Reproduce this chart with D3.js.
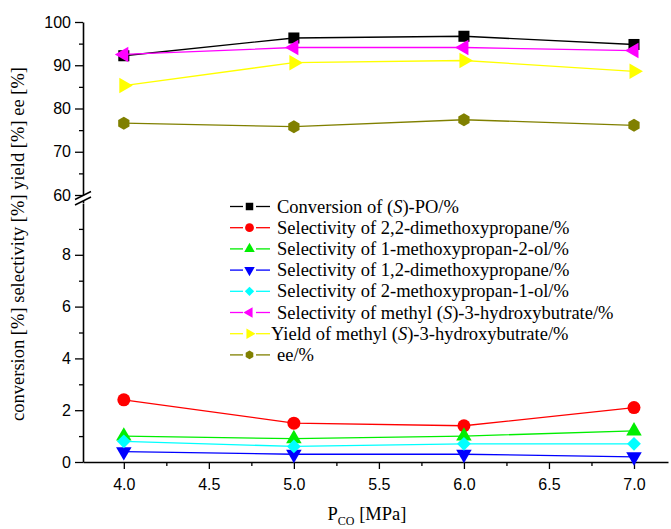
<!DOCTYPE html>
<html><head><meta charset="utf-8">
<script src="https://cdn.jsdelivr.net/npm/d3@7"></script>
<style>body{margin:0;background:#fff}svg{display:block}</style>
</head><body>
<svg id="c" width="671" height="529"></svg>
<script>
const pressures = [4.0, 5.0, 6.0, 7.0];
const xTicks = [4.0, 4.5, 5.0, 5.5, 6.0, 6.5, 7.0];
const yUpTicks = [60, 70, 80, 90, 100];
const yLowTicks = [0, 2, 4, 6, 8];
const conversion = [92.2, 96.3, 96.7, 94.8];
const sel22dmp = [2.4, 1.5, 1.4, 2.1];
const sel1mp2ol = [1.0, 0.9, 1.0, 1.2];
const sel12dmp = [0.4, 0.3, 0.3, 0.2];
const sel2mp1ol = [0.8, 0.6, 0.7, 0.7];
const selMHB = [92.5, 94.1, 94.1, 93.4];
const yieldMHB = [85.3, 90.6, 91.1, 88.6];
const ee = [76.6, 75.8, 77.4, 76.1];

const series = [
  {name: "Conversion of (S)-PO/%", parts: ["Conversion of (", "S", ")-PO/%"], values: conversion, color: "#000000", marker: "square"},
  {name: "Selectivity of 2,2-dimethoxypropane/%", parts: ["Selectivity of 2,2-dimethoxypropane/%"], values: sel22dmp, color: "#ff0000", marker: "circle"},
  {name: "Selectivity of 1-methoxypropan-2-ol/%", parts: ["Selectivity of 1-methoxypropan-2-ol/%"], values: sel1mp2ol, color: "#00ee00", marker: "up"},
  {name: "Selectivity of 1,2-dimethoxypropane/%", parts: ["Selectivity of 1,2-dimethoxypropane/%"], values: sel12dmp, color: "#0000ff", marker: "down"},
  {name: "Selectivity of 2-methoxypropan-1-ol/%", parts: ["Selectivity of 2-methoxypropan-1-ol/%"], values: sel2mp1ol, color: "#00ffff", marker: "diamond"},
  {name: "Selectivity of methyl (S)-3-hydroxybutrate/%", parts: ["Selectivity of methyl (", "S", ")-3-hydroxybutrate/%"], values: selMHB, color: "#ff00ff", marker: "left"},
  {name: "Yield of methyl (S)-3-hydroxybutrate/%", parts: ["Yield of methyl (", "S", ")-3-hydroxybutrate/%"], values: yieldMHB, color: "#ffff00", marker: "right"},
  {name: "ee/%", parts: ["ee/%"], values: ee, color: "#808000", marker: "hex"}
];

const svg = d3.select("#c");
const x = d3.scaleLinear().domain([3.76, 7.2]).range([83, 668]);
const yUp = d3.scaleLinear().domain([60, 100]).range([195, 22]);
const yLow = d3.scaleLinear().domain([0, 10]).range([462, 203]);
const yOf = v => v >= 50 ? yUp(v) : yLow(v);

function markerPath(type, s) {
  const p = d3.path();
  if (type === "hex") {
    for (let i = 0; i < 6; i++) {
      const a = Math.PI / 6 + i * Math.PI / 3;
      const px = s * Math.cos(a), py = s * Math.sin(a);
      i ? p.lineTo(px, py) : p.moveTo(px, py);
    }
    p.closePath();
    return p.toString();
  }
  if (type === "square") return d3.symbol(d3.symbolSquare, (1.7 * s) ** 2)();
  if (type === "circle") return d3.symbol(d3.symbolCircle, Math.PI * s * s)();
  if (type === "diamond") return d3.symbol(d3.symbolSquare, (1.5 * s) ** 2)();
  return d3.symbol(d3.symbolTriangle, 1.9 * s * s * 1.3)();
}
const rot = {up: 0, down: 180, left: -90, right: 90, diamond: 45};

const axisFont = "'Liberation Sans', Arial, sans-serif";
const serif = "'Liberation Serif', 'Times New Roman', serif";
const X0 = 83;

// X axis
const gx = svg.append("g").attr("transform", "translate(0,462)");
gx.call(d3.axisBottom(x).tickValues(xTicks).tickSize(7).tickSizeOuter(0).tickFormat(d3.format(".1f")));
const gxm = svg.append("g").attr("transform", "translate(0,462)");
gxm.call(d3.axisBottom(x).tickValues(d3.range(4.25, 7.2, 0.5)).tickSize(4).tickSizeOuter(0).tickFormat(""));
gxm.select(".domain").remove();

// Y axes
function yAxis(scale, majors, minors) {
  const g = svg.append("g").attr("transform", `translate(${X0},0)`);
  g.call(d3.axisLeft(scale).tickValues(majors).tickSize(8).tickPadding(4).tickSizeOuter(0));
  const gm = svg.append("g").attr("transform", `translate(${X0},0)`);
  gm.call(d3.axisLeft(scale).tickValues(minors).tickSize(4).tickSizeOuter(0).tickFormat(""));
  gm.select(".domain").remove();
  return g;
}
yAxis(yUp, yUpTicks, [65, 75, 85, 95]);
yAxis(yLow, yLowTicks, [1, 3, 5, 7, 9]);
svg.append("line").attr("x1", X0 + 0.5).attr("x2", X0 + 0.5).attr("y1", 195).attr("y2", 203).attr("stroke", "#000").attr("stroke-width", 1.6);

svg.selectAll(".domain").attr("stroke", "#000").attr("stroke-width", 1.6);
svg.selectAll(".tick line").attr("stroke", "#000").attr("stroke-width", 1.3);
svg.selectAll(".tick text").attr("font-family", axisFont).attr("font-size", 16).attr("fill", "#000");
gx.selectAll(".tick text").attr("dy", "1.15em");

// break marks
const brk = svg.append("g");
brk.append("polygon").attr("points", "75,200 91,192 91,197 75,205").attr("fill", "#fff");
[[75, 199.5, 91, 191.5], [75, 205, 91, 197]].forEach(l =>
  brk.append("line").attr("x1", l[0]).attr("y1", l[1]).attr("x2", l[2]).attr("y2", l[3]).attr("stroke", "#000").attr("stroke-width", 1.4));

// series
const line = d3.line().x((d, i) => x(pressures[i])).y(d => yOf(d));
series.forEach(s => {
  svg.append("path").datum(s.values).attr("d", line).attr("fill", "none").attr("stroke", s.color).attr("stroke-width", 1.3);
  svg.selectAll(null).data(s.values).enter().append("path")
    .attr("d", markerPath(s.marker, 6.5))
    .attr("transform", (d, i) => `translate(${x(pressures[i])},${yOf(d)}) rotate(${rot[s.marker] || 0})`)
    .attr("fill", s.color);
});

// legend
const lg = svg.append("g");
series.forEach((s, i) => {
  const yy = 206.5 + i * 21.2;
  lg.append("line").attr("x1", 230).attr("x2", 243).attr("y1", yy).attr("y2", yy).attr("stroke", s.color).attr("stroke-width", 1.3);
  lg.append("line").attr("x1", 256).attr("x2", 270).attr("y1", yy).attr("y2", yy).attr("stroke", s.color).attr("stroke-width", 1.3);
  lg.append("path").attr("d", markerPath(s.marker, 4.4))
    .attr("transform", `translate(249.5,${yy}) rotate(${rot[s.marker] || 0})`).attr("fill", s.color);
  const t = lg.append("text").attr("x", s.marker === "right" ? 271 : 277).attr("y", yy + 6)
    .attr("font-family", serif).attr("font-size", 18.5).attr("fill", "#000");
  s.parts.forEach((p, j) => t.append("tspan").text(p).attr("font-style", (s.parts.length === 3 && j === 1) ? "italic" : null));
});

// axis titles
svg.append("text").attr("transform", "translate(24,244) rotate(-90)").attr("text-anchor", "middle")
  .attr("font-family", serif).attr("font-size", 18.5).attr("fill", "#000")
  .text("conversion [%] selectivity [%] yield [%] ee [%]");
const xt = svg.append("text").attr("x", 367).attr("y", 520).attr("text-anchor", "middle")
  .attr("font-family", serif).attr("font-size", 18.5).attr("fill", "#000");
xt.append("tspan").text("P");
xt.append("tspan").text("CO").attr("font-size", 12).attr("dy", 5);
xt.append("tspan").text(" [MPa]").attr("dy", -5);
</script>
</body></html>
